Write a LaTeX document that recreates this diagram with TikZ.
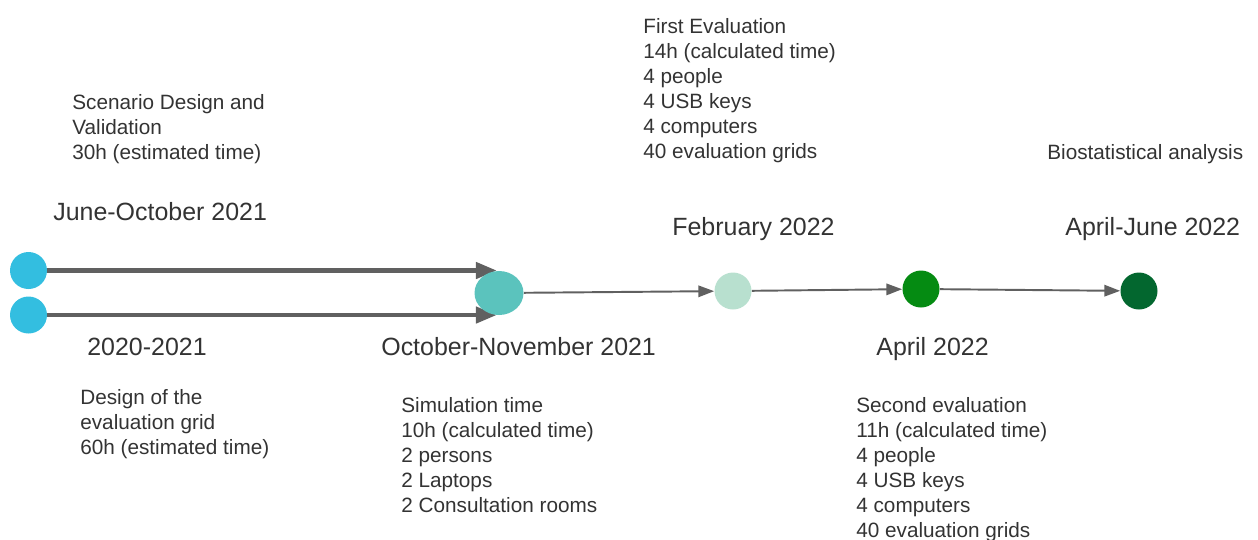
\documentclass[tikz,border=0pt]{standalone}
\usepackage{fontspec}
\setmainfont{Liberation Sans}
\usetikzlibrary{arrows.meta,shapes.geometric}
\definecolor{skyblue}{HTML}{33BEE0}
\definecolor{tealc}{HTML}{5BC3BD}
\definecolor{mintc}{HTML}{B8E0CF}
\definecolor{greenc}{HTML}{058B12}
\definecolor{darkgreenc}{HTML}{03672F}
\definecolor{linec}{HTML}{606060}
\definecolor{textc}{HTML}{333333}

\begin{document}
\begin{tikzpicture}
            [x=0.02cm,y=-0.02cm,
            dot/.style={circle,draw=none,fill=#1,minimum size=0.74cm,inner sep=0},
            note/.style={anchor=north west,align=left,inner sep=0,text=textc,
                font=\fontsize{11.8}{14.2}\selectfont},
            date/.style={anchor=base west,inner sep=0,text=textc,
                font=\fontsize{14.2}{17}\selectfont},
            thick arrow/.style={draw=linec,line width=2.8pt,
                -{Triangle[length=12pt,width=9pt]}},
            thin arrow/.style={draw=linec,line width=1.1pt,
                -{Triangle[length=9pt,width=6.5pt]}}]
            \useasboundingbox (0,0) rectangle (1258,539);
            % the two starting points
            \node[dot=skyblue] (scen) at (28.5,270.5) {};
            \node[dot=skyblue] (grid) at (28.5,315) {};
            \coordinate (scenend) at (497,270.5);
            \coordinate (gridend) at (497,315);
            \draw[thick arrow] (scen.east) -- (scenend);
            \draw[thick arrow] (grid.east) -- (gridend);
            % the milestones
            \node[ellipse,fill=tealc,minimum width=0.98cm,minimum height=0.88cm,inner sep=0]
                (sim) at (499,293) {};
            \node[dot=mintc] (first) at (733,291) {};
            \node[dot=greenc] (second) at (921,289) {};
            \node[dot=darkgreenc] (bio) at (1139,291) {};
            \draw[thin arrow] (sim) -- (first);
            \draw[thin arrow] (first) -- (second);
            \draw[thin arrow] (second) -- (bio);
            % dates
            \node[date] (scendate) at (53,220) {June-October 2021};
            \node[date] (griddate) at (87,355) {2020-2021};
            \node[date] (simdate) at (381,355) {October-November 2021};
            \node[date] (firstdate) at (672,235) {February 2022};
            \node[date] (seconddate) at (876,355) {April 2022};
            \node[date] (biodate) at (1065,235) {April-June 2022};
            % descriptions
            \node[note] (scentext) at (72,94)
                {Scenario Design and\\Validation\\30h (estimated time)};
            \node[note] (gridtext) at (80,389)
                {Design of the\\evaluation grid\\60h (estimated time)};
            \node[note] (simtext) at (401,397)
                {Simulation time\\10h (calculated time)\\2 persons\\2 Laptops\\2 Consultation rooms};
            \node[note] (firsttext) at (643,18)
                {First Evaluation\\14h (calculated time)\\4 people\\4 USB keys\\4 computers\\40 evaluation grids};
            \node[note] (secondtext) at (856,397)
                {Second evaluation\\11h (calculated time)\\4 people\\4 USB keys\\4 computers\\40 evaluation grids};
            \node[note] (biotext) at (1047,144) {Biostatistical analysis};
        \end{tikzpicture}
\end{document}
